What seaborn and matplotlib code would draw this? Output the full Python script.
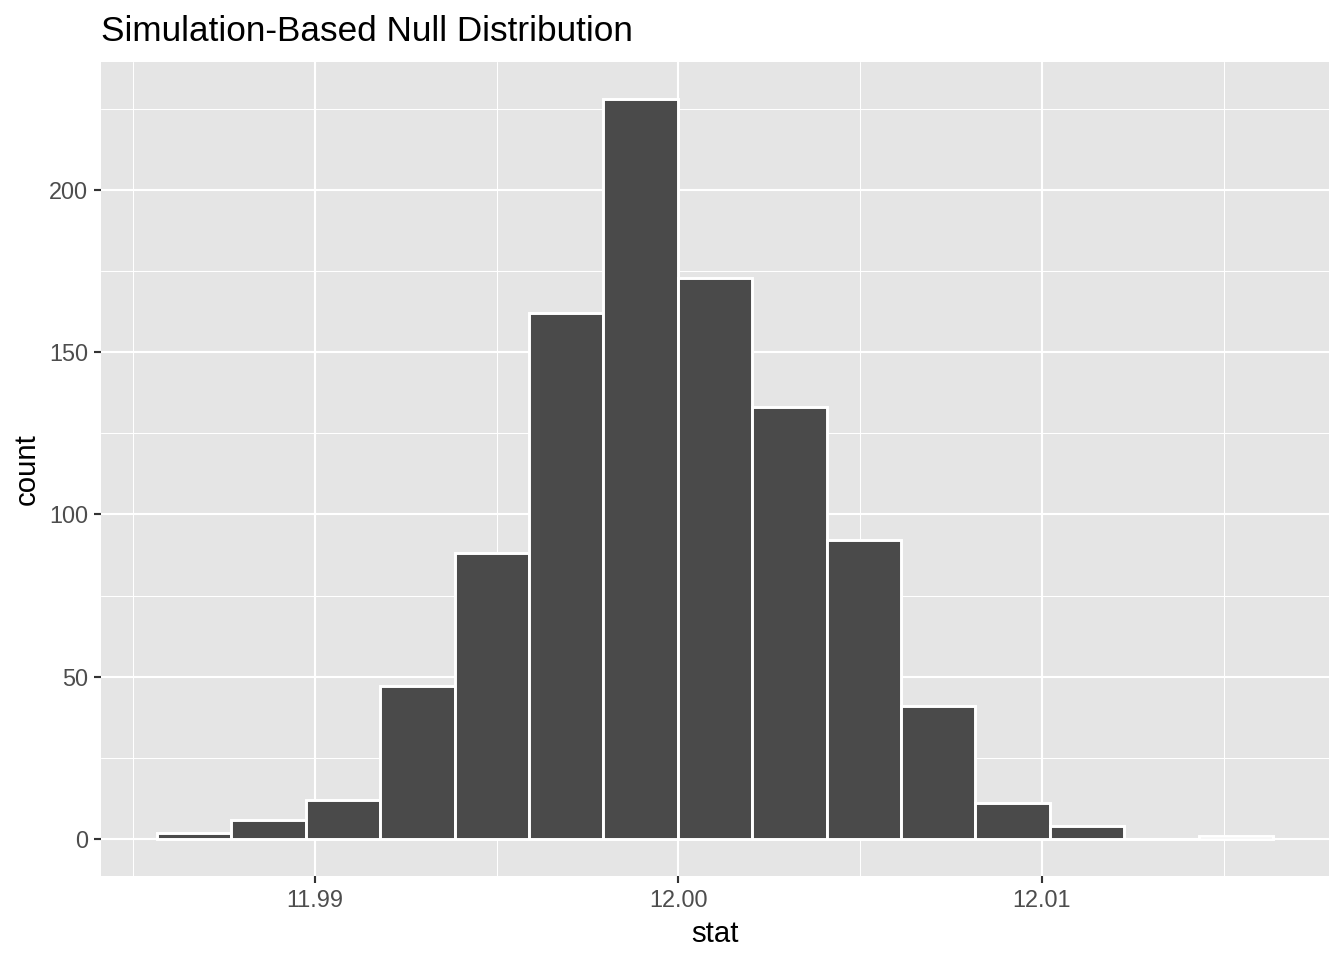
import numpy as np
import pandas as pd
import matplotlib
matplotlib.use("Agg")
import matplotlib.pyplot as plt
from matplotlib.ticker import FixedLocator
import seaborn as sns

# ==========================================
# data
# ==========================================
bin_edges = np.linspace(11.98565, 12.01636, 16)
bin_counts = [2, 6, 12, 47, 88, 162, 228, 173, 133, 92, 41, 11, 4, 0, 1]
x_ticks = [11.99, 12.00, 12.01]
x_tick_labels = ["11.99", "12.00", "12.01"]
x_minor = [11.985, 11.995, 12.005, 12.015]
y_ticks = [0, 50, 100, 150, 200]
y_minor = [25, 75, 125, 175, 225]

df = pd.DataFrame({
    'stat': (bin_edges[:-1] + bin_edges[1:]) / 2,
    'n': bin_counts,
})

# ==========================================
# style (ggplot2 theme_grey look)
# ==========================================
sns.set_theme(style="white")
plt.rcParams['font.family'] = ['Liberation Sans', 'DejaVu Sans']

fig = plt.figure(figsize=(7, 5), dpi=192)
ax = fig.add_axes([101 / 1344, 1 - 876 / 960, (1329 - 101) / 1344, (876 - 62) / 960])
ax.set_facecolor('#E5E5E5')
ax.set_axisbelow(True)

sns.histplot(data=df, x='stat', weights='n', bins=list(bin_edges), ax=ax,
             color='#4A4A4A', edgecolor='white', linewidth=1.1, alpha=1)

# limits with ggplot-like 5% expansion
span = bin_edges[-1] - bin_edges[0]
ax.set_xlim(bin_edges[0] - 0.05 * span, bin_edges[-1] + 0.05 * span)
ymax = max(bin_counts)
ax.set_ylim(-0.05 * ymax, ymax * 1.05)

ax.set_xticks(x_ticks)
ax.set_xticklabels(x_tick_labels)
ax.xaxis.set_minor_locator(FixedLocator(x_minor))
ax.set_yticks(y_ticks)
ax.yaxis.set_minor_locator(FixedLocator(y_minor))

ax.grid(which='major', color='white', linewidth=0.8)
ax.grid(which='minor', color='white', linewidth=0.4)
for s in ax.spines.values():
    s.set_visible(False)

ax.tick_params(which='major', length=2.75, width=0.8, color='#333333',
               labelsize=8.8, labelcolor='#4D4D4D', pad=2.2)
ax.tick_params(which='minor', length=0)
ax.tick_params(axis='x', bottom=True)
ax.tick_params(axis='y', left=True)

ax.set_xlabel('stat', fontsize=11, color='black', labelpad=3)
ax.set_ylabel('count', fontsize=11, color='black', labelpad=3)
ax.set_title('Simulation-Based Null Distribution', loc='left', fontsize=13.2,
             color='black', pad=8)

fig.savefig('out.png', dpi=192)
